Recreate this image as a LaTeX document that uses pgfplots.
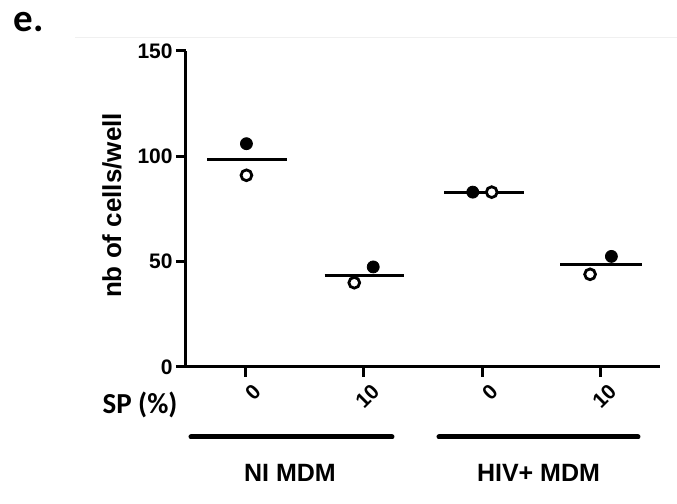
\documentclass[border=0pt]{standalone}
\usepackage{fontspec}
\setmainfont{Liberation Sans}
\newfontfamily\calibri{Carlito}
\usepackage{pgfplots}
\pgfplotsset{compat=1.18}
\begin{document}
\begin{tikzpicture}
\useasboundingbox (0,0) rectangle (338.5pt,252pt);
\draw[black!6, line width=0.5pt] (37.5pt,233pt) -- (338.5pt,233pt);
\begin{axis}[
 at={(93pt,68.5pt)}, anchor=south west,
 scale only axis, width=237pt, height=158pt,
 xmin=-0.5, xmax=3.5, ymin=0, ymax=150,
 axis x line=bottom, axis y line=left,
 axis line style={line width=1.5pt, -},
 xtick={0,1,2,3}, xticklabels={0,10,0,10},
 ytick={0,50,100,150},
 tick align=outside,
 major tick length=5pt,
 tick style={line width=1.5pt, black},
 /pgf/number format/assume math mode=true,
 ticklabel style={font=\fontsize{10.5}{12}\selectfont\bfseries},
 yticklabel style={inner sep=1.5pt},
 xticklabel style={rotate=45, anchor=east, inner sep=0pt, yshift=-8pt, xshift=0.5pt},
 clip=false,
]
% mean lines
\addplot[black, line width=1.5pt, no marks] coordinates {(-0.32,98.5) (0.35,98.5)};
\addplot[black, line width=1.5pt, no marks] coordinates {(0.67,43.5) (1.34,43.5)};
\addplot[black, line width=1.5pt, no marks] coordinates {(1.68,83) (2.35,83)};
\addplot[black, line width=1.5pt, no marks] coordinates {(2.66,48.7) (3.35,48.7)};
% filled points
\addplot[only marks, mark=*, mark size=3pt, black] coordinates {(0.01,106) (1.08,47.5) (1.92,83) (3.09,52.5)};
% open points
\addplot[only marks, mark=*, mark size=2.7pt, mark options={fill=white, draw=black, line width=1.4pt}] coordinates {(0.01,91) (0.92,40) (2.08,83) (2.91,44)};
\end{axis}
\node[rotate=90, font=\fontsize{13}{15}\selectfont\bfseries] at (56pt,149.25pt) {nb of cells/well};
\node[font=\calibri\fontsize{14.5}{16}\selectfont\bfseries] at (70pt,49.5pt) {SP (\%)};
\draw[line width=2.5pt, line cap=round] (95.5pt,33.5pt) -- (196pt,33.5pt);
\draw[line width=2.5pt, line cap=round] (219.5pt,33.5pt) -- (319pt,33.5pt);
\node[font=\fontsize{12.5}{14}\selectfont\bfseries] at (145pt,15.5pt) {NI MDM};
\node[font=\fontsize{12.5}{14}\selectfont\bfseries] at (269.25pt,15.5pt) {HIV+ MDM};
\node[anchor=base west, inner sep=0pt, font=\calibri\fontsize{19.5}{22}\selectfont\bfseries] at (6.5pt,236pt) {e.};
\end{tikzpicture}
\end{document}
